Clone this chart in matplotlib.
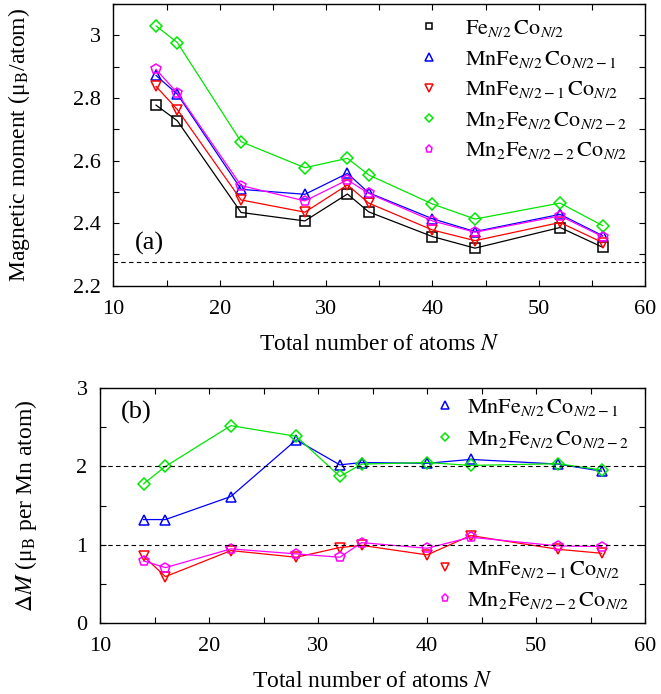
import numpy as np
import matplotlib
matplotlib.use('Agg')
import matplotlib.pyplot as plt
from matplotlib.lines import Line2D
from matplotlib.ticker import MultipleLocator, FuncFormatter

plt.rcParams['font.family'] = ['Liberation Serif', 'DejaVu Serif']
plt.rcParams['mathtext.fontset'] = 'stix'

N = [14, 16, 22, 28, 32, 34, 40, 44, 52, 56]

# panel (a): magnetic moment per atom
mFeCo = [2.777, 2.727, 2.434, 2.407, 2.493, 2.436, 2.357, 2.320, 2.386, 2.323]
mMnFe = [2.872, 2.812, 2.508, 2.492, 2.559, 2.497, 2.414, 2.373, 2.428, 2.360]
mMnCo = [2.837, 2.763, 2.474, 2.435, 2.522, 2.464, 2.378, 2.344, 2.402, 2.338]
mMn2Fe = [3.030, 2.977, 2.660, 2.577, 2.607, 2.554, 2.461, 2.413, 2.464, 2.392]
mMn2Co = [2.891, 2.816, 2.520, 2.471, 2.538, 2.495, 2.407, 2.371, 2.423, 2.357]
bulk = 2.277

# panel (b): delta M per Mn atom
dMnFe = [1.32, 1.32, 1.615, 2.34, 2.02, 2.05, 2.04, 2.09, 2.03, 1.94]
dMn2Fe = [1.778, 2.0, 2.522, 2.385, 1.872, 2.03, 2.05, 2.013, 2.035, 1.955]
dMnCo = [0.85, 0.59, 0.923, 0.838, 0.962, 0.99, 0.868, 1.115, 0.94, 0.889]
dMn2Co = [0.791, 0.705, 0.945, 0.881, 0.838, 1.025, 0.953, 1.094, 0.983, 0.975]

lbl_FeCo = r'$\mathrm{Fe}_{N/2}\,\mathrm{Co}_{N/2}$'
lbl_MnFe = r'$\mathrm{MnFe}_{N/2}\,\mathrm{Co}_{N/2-1}$'
lbl_MnCo = r'$\mathrm{MnFe}_{N/2-1}\,\mathrm{Co}_{N/2}$'
lbl_Mn2Fe = r'$\mathrm{Mn}_2\mathrm{Fe}_{N/2}\,\mathrm{Co}_{N/2-2}$'
lbl_Mn2Co = r'$\mathrm{Mn}_2\mathrm{Fe}_{N/2-2}\,\mathrm{Co}_{N/2}$'

green = '#00e600'
magenta = '#ff00ff'
fs = 16
lfs = 17

# style per series: colour, marker, marker size
st = {
    'FeCo': ('k', 's', 6.5),
    'MnFe': ('b', '^', 7.5),
    'MnCo': ('r', 'v', 7.5),
    'Mn2Fe': (green, 'D', 6),
    'Mn2Co': (magenta, 'p', 7.5),
}


def draw(ax, y, key):
    c, m, ms = st[key]
    ax.plot(N, y, color=c, marker=m, ms=ms, lw=0.9, mfc='none', mew=1.1)


def handle(key, label):
    c, m, ms = st[key]
    return Line2D([], [], ls='none', color=c, marker=m, ms=ms * 0.7,
                  mfc='none', mew=1.1, label=label)


fig = plt.figure(figsize=(6.61, 6.94), dpi=100)
ax1 = fig.add_axes([0.1717, 0.5883, 0.8043, 0.4059])
ax2 = fig.add_axes([0.1513, 0.1027, 0.8247, 0.3378])

draw(ax1, mFeCo, 'FeCo')
draw(ax1, mMnFe, 'MnFe')
draw(ax1, mMnCo, 'MnCo')
draw(ax1, mMn2Fe, 'Mn2Fe')
draw(ax1, mMn2Co, 'Mn2Co')
ax1.axhline(bulk, color='k', ls='--', lw=0.8, dashes=(4, 3))

draw(ax2, dMnFe, 'MnFe')
draw(ax2, dMn2Fe, 'Mn2Fe')
draw(ax2, dMnCo, 'MnCo')
draw(ax2, dMn2Co, 'Mn2Co')
for yv in [1, 2]:
    ax2.axhline(yv, color='k', ls='--', lw=0.8, dashes=(4, 3))

ax1.set_xlim(10, 60)
ax1.set_ylim(2.2, 3.1)
ax2.set_xlim(10, 60)
ax2.set_ylim(0, 3)

ax1.xaxis.set_major_locator(MultipleLocator(10))
ax1.xaxis.set_minor_locator(MultipleLocator(5))
ax1.yaxis.set_major_locator(MultipleLocator(0.2))
ax1.yaxis.set_minor_locator(MultipleLocator(0.1))
ax1.yaxis.set_major_formatter(FuncFormatter(lambda v, p: '%g' % round(v, 2)))
ax2.xaxis.set_major_locator(MultipleLocator(10))
ax2.xaxis.set_minor_locator(MultipleLocator(5))
ax2.yaxis.set_major_locator(MultipleLocator(1))
ax2.yaxis.set_minor_locator(MultipleLocator(0.5))

for ax in (ax1, ax2):
    ax.tick_params(which='both', direction='in', top=True, right=True,
                   length=4, width=0.8, labelsize=fs)
    ax.tick_params(axis='x', pad=10)
    ax.tick_params(axis='y', pad=9)
    for s in ax.spines.values():
        s.set_linewidth(1.0)
    ax.set_xlabel('Total number of atoms $N$', fontsize=lfs, labelpad=11)

ax1.set_ylabel(r'Magnetic moment (μ$_\mathrm{B}$/atom)', fontsize=lfs)
ax2.set_ylabel(r'$\Delta M$ (μ$_\mathrm{B}$ per Mn atom)', fontsize=lfs)
ax1.yaxis.set_label_coords(-0.153, 0.5)
ax2.yaxis.set_label_coords(-0.112, 0.5)

ax1.text(0.04, 0.149, '(a)', transform=ax1.transAxes, fontsize=19, va='center')
ax2.text(0.038, 0.895, '(b)', transform=ax2.transAxes, fontsize=19, va='center')

lkw = dict(frameon=False, fontsize=fs, numpoints=1, handlelength=1.0,
           borderaxespad=0.3)

ax1.legend(handles=[handle('FeCo', lbl_FeCo), handle('MnFe', lbl_MnFe),
                    handle('MnCo', lbl_MnCo), handle('Mn2Fe', lbl_Mn2Fe),
                    handle('Mn2Co', lbl_Mn2Co)],
           loc='upper right', bbox_to_anchor=(0.995, 1.005),
           handletextpad=1.1, labelspacing=0.43, **lkw)

leg2a = ax2.legend(handles=[handle('MnFe', lbl_MnFe), handle('Mn2Fe', lbl_Mn2Fe)],
                   loc='upper right', bbox_to_anchor=(1.0, 1.03),
                   handletextpad=0.5, labelspacing=0.5, **lkw)
ax2.add_artist(leg2a)
ax2.legend(handles=[handle('MnCo', lbl_MnCo), handle('Mn2Co', lbl_Mn2Co)],
           loc='lower right', bbox_to_anchor=(1.0, -0.015),
           handletextpad=0.5, labelspacing=0.45, **lkw)

fig.savefig('out.png', dpi=100)
